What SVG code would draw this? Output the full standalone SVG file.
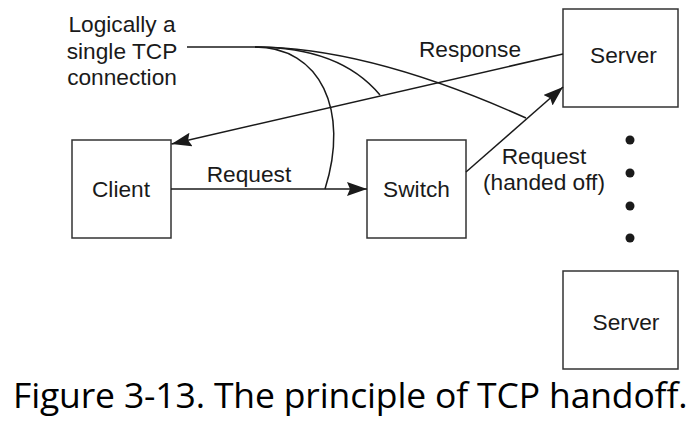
<svg xmlns="http://www.w3.org/2000/svg" width="700" height="434" viewBox="0 0 700 434">
<style>
.box{fill:#fff;stroke:#333;stroke-width:1.5}
.lbl{font-family:"Liberation Sans",Arial,sans-serif;font-size:22.7px;fill:#1a1a1a;text-anchor:middle}
.ln{fill:none;stroke:#1a1a1a;stroke-width:1.5}
.cap{font-family:"Open Sans","Noto Sans",sans-serif;font-size:35.5px;fill:#000;letter-spacing:-0.15px}
</style>
<defs>
<marker id="ah" markerUnits="userSpaceOnUse" markerWidth="22" markerHeight="16" refX="20" refY="7" orient="auto">
<path d="M0,0 L20,7 L0,14 L3,7 z" fill="#1a1a1a"/>
</marker>
</defs>
<rect width="700" height="434" fill="#fff"/>
<g id="client"><rect class="box" x="72" y="140" width="99" height="98"/><text class="lbl" x="121" y="197">Client</text></g>
<g id="switch"><rect class="box" x="367" y="140" width="99" height="98"/><text class="lbl" x="416.5" y="197">Switch</text></g>
<g id="server1"><rect class="box" x="563" y="9" width="115" height="98"/><text class="lbl" x="623.5" y="63">Server</text></g>
<g id="server2"><rect class="box" x="563" y="271" width="115" height="98"/><text class="lbl" x="626" y="330">Server</text></g>
<g id="dots" fill="#1a1a1a"><circle cx="630" cy="140" r="4.5"/><circle cx="630" cy="173" r="4.5"/><circle cx="630" cy="206" r="4.5"/><circle cx="630" cy="238" r="4.5"/></g>
<g id="tcp-label"><text class="lbl" x="122" y="32">Logically a</text><text class="lbl" x="122" y="58.5">single TCP</text><text class="lbl" x="122" y="85">connection</text></g>
<g id="connectors">
<line class="ln" x1="563" y1="54" x2="171.5" y2="144" marker-end="url(#ah)"/>
<line class="ln" x1="171" y1="189" x2="367" y2="189" marker-end="url(#ah)"/>
<line class="ln" x1="466" y1="172" x2="563" y2="87" marker-end="url(#ah)"/>
<path class="ln" d="M187,47 L255,47"/>
<path class="ln" d="M255,47 Q368,47 526,118"/>
<path class="ln" d="M255,47 Q340,47 380,95"/>
<path class="ln" d="M255,47 C320,47 350,110 325,189"/>
</g>
<g id="labels">
<text class="lbl" x="470" y="57">Response</text>
<text class="lbl" x="249" y="182">Request</text>
<text class="lbl" x="544" y="164">Request</text>
<text class="lbl" x="544" y="190">(handed off)</text>
</g>
<text class="cap" x="13" y="408">Figure 3-13. The principle of TCP handoff.</text>
</svg>
